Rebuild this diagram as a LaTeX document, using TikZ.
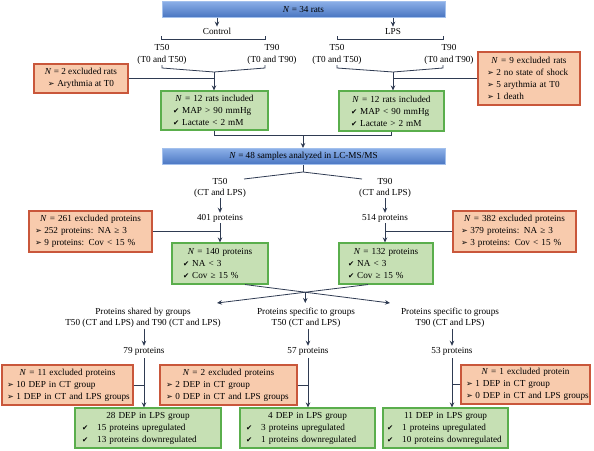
\documentclass[tikz,border=0pt]{standalone}
\usepackage{fontspec}
\setmainfont{Liberation Serif}
\newfontfamily\symf{DejaVu Sans}[Scale=0.8]
\newfontfamily\bulf{DejaVu Sans}[Scale=0.88]
\usetikzlibrary{arrows.meta}
\definecolor{bluetop}{HTML}{8CB0E8}
\definecolor{bluebot}{HTML}{4A76C2}
\definecolor{blueedge}{HTML}{A3C0EC}
\definecolor{exfill}{HTML}{F8CBAD}
\definecolor{exedge}{HTML}{C9573B}
\definecolor{infill}{HTML}{C6E0B4}
\definecolor{inedge}{HTML}{5AAE4C}
\definecolor{linec}{HTML}{2F3B52}
\newcommand\NN{\textit{N}}
\newcommand\ck[1]{\mbox{{\symf ✔}\hspace{3pt}#1}}
\newcommand\cw[1]{\mbox{{\symf ✔}\hspace{9pt}#1}}
\newcommand\bl[1]{\mbox{{\bulf ➢}\hspace{2.5pt}#1}}
\newcommand\hdr[1]{\noindent\makebox[\hsize][c]{#1}\\}
\tikzset{
 every node/.append style={font=\fontsize{9.2}{12}\selectfont},
 bluebox/.style={draw=blueedge, line width=1pt, top color=bluetop, bottom color=bluebot, minimum width=283pt, minimum height=16pt, inner sep=0pt},
 exbox/.style={draw=exedge, fill=exfill, line width=1.1pt, align=left},
 inbox/.style={draw=inedge, fill=infill, line width=1.1pt, align=left},
 lbl/.style={align=center, inner sep=1pt},
 ln/.style={draw=linec, line width=0.8pt},
 arr/.style={ln, -{Stealth[length=5pt,width=4.5pt]}},
}
\begin{document}
\begin{tikzpicture}[x=1pt,y=-1pt]
\useasboundingbox (0,0) rectangle (594,450);
% top
\node[bluebox] (top) at (303.5,9) {\NN{} = 34 rats};
\node[lbl] (ctrl) at (217,31) {Control};
\node[lbl] (lps) at (393,31) {LPS};
\draw[arr] (top.south -| ctrl) -- (ctrl.north);
\draw[arr] (top.south -| lps) -- (lps.north);
% brackets
\coordinate (cb1) at (161,39); \coordinate (cb2) at (265,39);
\coordinate (lb1) at (337,39); \coordinate (lb2) at (443,39);
\draw[ln] ([yshift=3pt]cb1) -- (cb1) -- (cb2) -- ([yshift=3pt]cb2);
\draw[ln] ([yshift=3pt]lb1) -- (lb1) -- (lb2) -- ([yshift=3pt]lb2);
\node[lbl] (c50) at (162,54.5) {T50\\(T0 and T50)};
\node[lbl] (c90) at (272,54.5) {T90\\(T0 and T90)};
\node[lbl] (l50) at (337,54.5) {T50\\(T0 and T50)};
\node[lbl] (l90) at (449,54.5) {T90\\(T0 and T90)};
\coordinate (cv) at (214,72);
\coordinate (lv) at (393,72);
\draw[ln] (162,65) -- (162,68) -- (cv) -- (265,68) -- (265,65);
\draw[ln] (337,65) -- (337,68) -- (lv) -- (443,68) -- (443,65);
% included rats
\node[inbox, text width=83pt, inner xsep=12pt, minimum height=39pt] (g1) at (214.5,110.5)
 {\hdr{\NN{} = 12 rats included}\ck{MAP > 90 mmHg}\\\ck{Lactate < 2 mM}};
\node[inbox, text width=81pt, inner xsep=12pt, minimum height=40pt] (g2) at (391.5,111)
 {\hdr{\NN{} = 12 rats included}\ck{MAP < 90 mmHg}\\\ck{Lactate > 2 mM}};
\draw[arr] (cv) -- (cv |- g1.north);
\draw[arr] (lv) -- (lv |- g2.north);
% excluded rats
\node[exbox, align=center, minimum width=94pt, minimum height=29pt, inner sep=0pt] (ex1) at (81,78.5)
 {\NN{} = 2 excluded rats\\\bl{Arythmia at T0}};
\node[exbox, text width=84pt, inner xsep=9pt, minimum height=53pt] (ex2) at (529,78.5)
 {\hdr{\NN{} = 9 excluded rats}\bl{2 no state of shock}\\\bl{5 arythmia at T0}\\\bl{1 death}};
\draw[ln] (ex1.east) -- (ex1.east -| cv);
\draw[ln] (ex2.west) -- (ex2.west -| lv);
% join
\node[bluebox] (b2) at (303.5,156.5) {\NN{} = 48 samples analyzed in LC-MS/MS};
\coordinate (j) at (303,135);
\draw[ln] (g1.south) -- (g1.south |- j) -- (g2.south |- j) -- (g2.south);
\draw[arr] (j) -- (j |- b2.north);
% split
\coordinate (b2j) at (303,172);
\draw[ln] (b2.south -| b2j) -- (b2j);
\draw[ln] (244,179) -- (b2j) -- (362,179);
\node[lbl] (t50) at (220,187.5) {T50\\[-1pt](CT and LPS)};
\node[lbl] (t90) at (385,187.5) {T90\\[-1pt](CT and LPS)};
\node[lbl] (p401) at (220,218) {401 proteins};
\node[lbl] (p514) at (385,218) {514 proteins};
\draw[arr] (t50.south) -- (p401.north);
\draw[arr] (t90.south) -- (p514.north);
\node[exbox, text width=111pt, inner xsep=6pt, minimum height=41pt] (ex3) at (90.5,231.5)
 {\hdr{\NN{} = 261 excluded proteins}\bl{252 proteins: NA ≥ 3}\\\bl{9 proteins: Cov < 15 \%}};
\node[exbox, text width=107pt, inner xsep=8pt, minimum height=41pt] (ex4) at (514.5,231.5)
 {\hdr{\NN{} = 382 excluded proteins}\bl{379 proteins: NA ≥ 3}\\\bl{3 proteins: Cov < 15 \%}};
\node[inbox, text width=74pt, inner xsep=11pt, minimum height=41pt] (g3) at (220,263.5)
 {\hdr{\NN{} = 140 proteins}\ck{NA < 3}\\\ck{Cov ≥ 15 \%}};
\node[inbox, text width=76pt, inner xsep=9pt, minimum height=41pt] (g4) at (386,263.5)
 {\hdr{\NN{} = 132 proteins}\ck{NA < 3}\\\ck{Cov ≥ 15 \%}};
\draw[arr] (p401.south) -- (p401.south |- g3.north);
\draw[arr] (p514.south) -- (p514.south |- g4.north);
\draw[ln] (ex3.east) -- (ex3.east -| p401);
\draw[ln] (ex4.west) -- (ex4.west -| p514);
% crossing
\coordinate (s3) at ([xshift=25pt]g3.south);
\coordinate (s4) at ([xshift=-18pt]g4.south);
\coordinate (tl) at (217,303);
\coordinate (tr) at (390,303);
\draw[arr] (s3) -- (tr);
\draw[arr] (s4) -- (tl);
\coordinate (xc) at (intersection of s3--tr and s4--tl);
\draw[arr] (xc) -- (xc |- tl);
% groups
\node[lbl] (sh) at (143,318) {Proteins shared by groups\\[-1pt]T50 (CT and LPS) and T90 (CT and LPS)};
\node[lbl] (sp1) at (306,318) {Proteins specific to groups\\[-1pt]T50 (CT and LPS)};
\node[lbl] (sp2) at (450,318) {Proteins specific to groups\\[-1pt]T90 (CT and LPS)};
\node[lbl] (p79) at (144,351) {79 proteins};
\node[lbl] (p57) at (308,351) {57 proteins};
\node[lbl] (p53) at (452,351) {53 proteins};
\draw[arr] (sh.south -| p79) -- (p79.north);
\draw[arr] (sp1.south -| p57) -- (p57.north);
\draw[arr] (sp2.south -| p53) -- (p53.north);
% excluded DEP
\node[exbox, text width=121pt, inner xsep=5pt, minimum height=40pt] (ex5) at (67.5,385)
 {\hdr{\NN{} = 11 excluded proteins}\bl{10 DEP in CT group}\\\bl{1 DEP in CT and LPS groups}};
\node[exbox, text width=125pt, inner xsep=6pt, minimum height=40pt] (ex6) at (228.5,385)
 {\hdr{\NN{} = 2 excluded proteins}\bl{2 DEP in CT group}\\\bl{0 DEP in CT and LPS groups}};
\node[exbox, text width=119pt, inner xsep=5pt, minimum height=39pt] (ex7) at (525.5,384.5)
 {\hdr{\NN{} = 1 excluded protein}\bl{1 DEP in CT group}\\\bl{0 DEP in CT and LPS groups}};
% included DEP
\node[inbox, text width=132pt, inner xsep=7pt, minimum height=40pt] (g5) at (148,428)
 {\hdr{28 DEP in LPS group}\cw{15 proteins upregulated}\\\cw{13 proteins downregulated}};
\node[inbox, text width=123pt, inner xsep=6pt, minimum height=40pt] (g6) at (307.5,428)
 {\hdr{4 DEP in LPS group}\cw{3 proteins upregulated}\\\cw{1 proteins downregulated}};
\node[inbox, text width=117pt, inner xsep=4pt, minimum height=40pt] (g7) at (445.5,428)
 {\hdr{11 DEP in LPS group}\cw{1 proteins upregulated}\\\cw{10 proteins downregulated}};
\draw[arr, shorten <=2pt] (p79.south) -- (p79.south |- g5.north);
\draw[arr, shorten <=2pt] (p57.south) -- (p57.south |- g6.north);
\draw[arr, shorten <=2pt] (p53.south) -- (p53.south |- g7.north);
\draw[ln] (ex5.east) -- (ex5.east -| p79);
\draw[ln] (ex6.east) -- (ex6.east -| p57);
\draw[ln] (ex7.west) -- (ex7.west -| p53);
\end{tikzpicture}
\end{document}
